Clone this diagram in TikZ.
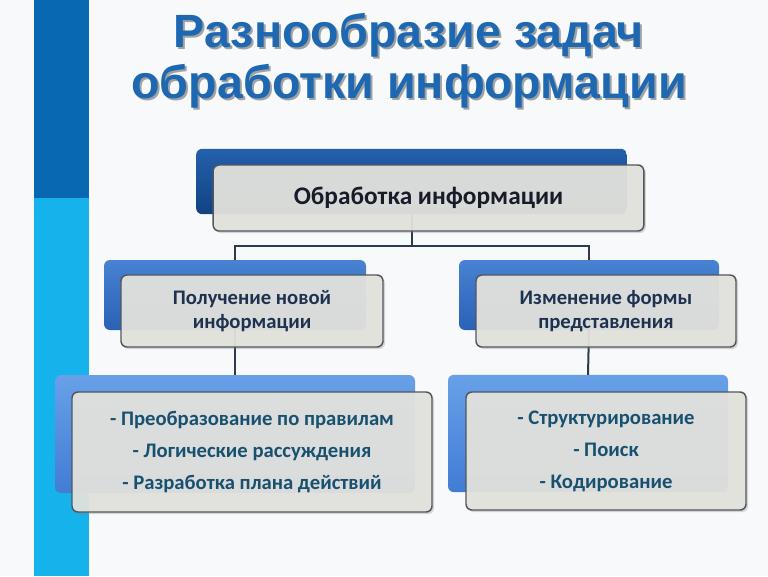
\documentclass[tikz,border=0pt]{standalone}
\usepackage{fontspec}
\setmainfont{Carlito}
\newfontfamily\titlefont{Liberation Sans}
\usetikzlibrary{shadows}
\definecolor{pagebg}{RGB}{248,249,250}
\definecolor{bardark}{RGB}{8,104,178}
\definecolor{barlight}{RGB}{22,178,236}
\definecolor{titleblue}{RGB}{30,104,178}
\definecolor{deeptop}{RGB}{36,96,172}
\definecolor{deepbot}{RGB}{18,66,130}
\definecolor{midtop}{RGB}{72,130,210}
\definecolor{midbot}{RGB}{42,98,182}
\definecolor{lowtop}{RGB}{104,160,232}
\definecolor{lowbot}{RGB}{66,124,212}
\definecolor{frontfill}{RGB}{228,228,222}
\definecolor{frontrule}{RGB}{82,86,92}
\definecolor{linkrule}{RGB}{44,58,78}
\definecolor{headink}{RGB}{24,28,40}
\definecolor{midink}{RGB}{30,50,80}
\definecolor{lowink}{RGB}{24,80,112}
\tikzset{
  backbox/.style={rectangle,rounded corners=4.5pt,inner sep=0pt,outer sep=0pt,draw=none},
  frontbox/.style={rectangle,rounded corners=4.5pt,inner sep=0pt,outer sep=0pt,align=center,
    draw=frontrule,line width=1.1pt,fill=frontfill,fill opacity=0.93,text opacity=1,
    drop shadow={shadow xshift=1.5pt,shadow yshift=-1.5pt,opacity=0.3}},
  link/.style={draw=linkrule,line width=1.5pt},
  titleline/.style={anchor=base,text=titleblue,font=\titlefont\bfseries\fontsize{35}{38}\selectfont},
  titleshade/.style={anchor=base,text=black,opacity=0.35,font=\titlefont\bfseries\fontsize{35}{38}\selectfont}
}

\begin{document}
\begin{tikzpicture}[x=0.75pt,y=-0.75pt]
  \useasboundingbox (0,0) rectangle (768,576);
  \fill[pagebg] (0,0) rectangle (768,576);
  \fill[bardark] (34,0) rectangle (89,198);
  \fill[barlight] (34,198) rectangle (89,576);

  % title
  \node[titleshade] (shadeone) at (411,49) {Разнообразие задач};
  \node[titleshade] (shadetwo) at (411,100) {обработки информации};
  \node[titleline] (titleone) at (409,47) {Разнообразие задач};
  \node[titleline] (titletwo) at (409,98) {обработки информации};

  % back boxes
  \node[backbox,top color=deeptop,bottom color=deepbot,minimum width=323pt,minimum height=49pt] (infoback) at (411.5,181.5) {};
  \node[backbox,top color=midtop,bottom color=midbot,minimum width=196.5pt,minimum height=52.5pt] (newback) at (235,295) {};
  \node[backbox,top color=midtop,bottom color=midbot,minimum width=195pt,minimum height=52.5pt] (changeback) at (589,295) {};
  \node[backbox,top color=lowtop,bottom color=lowbot,minimum width=270pt,minimum height=88.5pt] (rulesback) at (235,434) {};
  \node[backbox,top color=lowtop,bottom color=lowbot,minimum width=210pt,minimum height=88pt] (formsback) at (588,433.5) {};

  % connectors
  \coordinate (fork) at (411.5,246);
  \draw[link] (infoback.south) -- (fork);
  \draw[link] (newback.north) |- (fork) -| (changeback.north);
  \draw[link] (newback.south) -- (rulesback.north);
  \draw[link] (changeback.south) -- (formsback.north);

  % front boxes
  \node[frontbox,minimum width=323pt,minimum height=49.5pt,text=headink,font=\bfseries\fontsize{19}{22}\selectfont] (info) at (428.5,198) {Обработка информации};
  \node[frontbox,minimum width=196.5pt,minimum height=54pt,text=midink,font=\bfseries\fontsize{15.5}{18}\selectfont] (newinfo) at (252,311) {Получение новой\\информации};
  \node[frontbox,minimum width=195pt,minimum height=54pt,text=midink,font=\bfseries\fontsize{15.5}{18}\selectfont] (change) at (606,311) {Изменение формы\\представления};
  \node[frontbox,minimum width=270pt,minimum height=90pt,text=lowink,font=\bfseries\fontsize{15.5}{24}\selectfont] (rules) at (252,452) {- Преобразование по правилам\\- Логические рассуждения\\- Разработка плана действий};
  \node[frontbox,minimum width=210pt,minimum height=88.5pt,text=lowink,font=\bfseries\fontsize{15.5}{24}\selectfont] (forms) at (606,451) {- Структурирование\\- Поиск\\- Кодирование};
\end{tikzpicture}
\end{document}
